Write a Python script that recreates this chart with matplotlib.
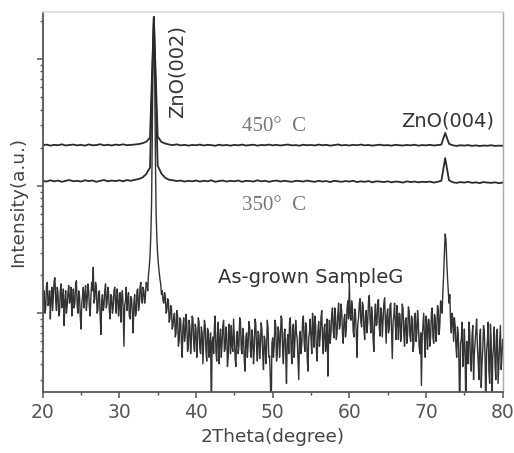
import numpy as np
import matplotlib
matplotlib.use("Agg")
import matplotlib.pyplot as plt
from matplotlib.ticker import LogLocator, NullFormatter, MultipleLocator

# ---------------- data ----------------
# As-grown sample: 2theta from 20.0 to 80.0 in 0.1 deg steps
asgrown = [
    # 20.0 - 33.0
    95, 140, 150, 100, 110, 165, 175, 115, 120, 150,
    90, 130, 160, 105, 135, 180, 190, 125, 105, 160,
    145, 95, 100, 150, 170, 110, 125, 155, 80, 120,
    150, 100, 115, 145, 165, 120, 130, 160, 95, 125,
    155, 110, 120, 170, 180, 115, 100, 150, 140, 95,
    75, 120, 135, 160, 110, 140, 165, 105, 125, 170,
    150, 110, 95, 140, 175, 150, 230, 120, 130, 175,
    160, 100, 105, 145, 150, 95, 68, 125, 140, 105,
    115, 150, 170, 110, 120, 160, 145, 105, 90, 140,
    135, 100, 110, 150, 160, 120, 100, 155, 140, 95,
    120, 145, 85, 130, 150, 110, 55, 115, 125, 160,
    105, 130, 145, 95, 90, 135, 130, 100, 70, 120,
    140, 95, 100, 150, 155, 105, 115, 160, 175, 125,
    120,
    # 33.1 - 37.0
    160, 150, 120, 135, 175, 170, 150, 200, 230, 280,
    400, 700, 2500, 12000, 21400, 9000, 1800, 600, 380, 290,
    240, 210, 185, 170, 140, 150, 125, 120, 145, 135,
    100, 105, 130, 125, 85, 90, 115, 110, 75, 80,
    # 37.1 - 50.0
    95, 100, 65, 70, 105, 95, 55, 60, 92, 88,
    58, 45, 80, 92, 60, 68, 98, 82, 50, 55,
    88, 78, 48, 62, 95, 90, 58, 50, 82, 75,
    45, 60, 92, 85, 52, 48, 78, 70, 40, 58,
    88, 80, 50, 42, 76, 72, 45, 55, 70, 15,
    60, 65, 48, 78, 95, 50, 42, 68, 85, 40,
    62, 75, 45, 58, 80, 88, 50, 52, 78, 70,
    38, 45, 82, 66, 48, 80, 55, 50, 90, 62,
    44, 38, 68, 72, 48, 55, 92, 85, 52, 48,
    76, 66, 42, 35, 64, 70, 45, 58, 86, 78,
    50, 45, 74, 64, 40, 52, 90, 82, 55, 42,
    72, 68, 44, 56, 84, 74, 48, 36, 66, 62,
    40, 50, 88, 76, 45, 46, 30, 15, 58, 64,
    # 50.1 - 58.0
    45, 55, 88, 80, 42, 48, 78, 72, 45, 60,
    95, 90, 50, 40, 70, 75, 48, 28, 62, 68,
    48, 85, 92, 52, 40, 76, 82, 45, 60, 88,
    70, 62, 42, 30, 66, 72, 48, 58, 86, 95,
    60, 50, 84, 78, 45, 35, 64, 70, 90, 62,
    48, 100, 78, 54, 95, 80, 52, 42, 72, 86,
    55, 66, 92, 105, 62, 48, 76, 82, 50, 60,
    90, 32, 65, 88, 58, 70, 98, 110, 72, 64,
    # 58.1 - 68.0
    110, 95, 62, 70, 100, 120, 75, 80, 118, 105,
    70, 58, 90, 98, 65, 75, 110, 125, 90, 175,
    100, 88, 125, 110, 72, 65, 108, 100, 70, 45,
    82, 92, 120, 130, 85, 78, 122, 115, 75, 62,
    95, 105, 70, 85, 125, 138, 90, 70, 112, 96,
    62, 50, 92, 118, 80, 82, 125, 128, 78, 66,
    110, 100, 65, 88, 120, 132, 85, 58, 96, 108,
    70, 76, 115, 120, 75, 44, 85, 95, 120, 80,
    62, 115, 90, 62, 100, 98, 60, 72, 118, 110,
    70, 55, 88, 92, 58, 68, 112, 104, 66, 60,
    # 68.1 - 72.0
    95, 90, 50, 56, 95, 100, 60, 70, 105, 85,
    55, 48, 70, 27, 65, 80, 100, 62, 45, 95,
    80, 52, 90, 88, 55, 66, 100, 110, 65, 58,
    98, 92, 60, 72, 115, 105, 68, 80, 125, 120,
    # 72.1 - 73.6
    100, 150, 200, 300, 420, 380, 260, 190, 150, 120,
    140, 85, 70, 100, 90, 60,
    # 73.7 - 80.0
    92, 80, 55, 45, 78, 70, 40, 15, 58, 62,
    85, 38, 50, 75, 45, 16, 60, 55, 40, 85,
    70, 40, 35, 66, 80, 30, 48, 58, 72, 90,
    55, 42, 30, 64, 75, 26, 40, 52, 80, 72,
    45, 16, 50, 60, 85, 35, 28, 82, 62, 17,
    45, 54, 78, 40, 30, 68, 75, 28, 40, 58,
    80, 36, 45, 62,
]
asgrown_start, asgrown_step = 20.0, 0.1

# Annealed samples: 2theta from 20.0 to 80.0 in 0.5 deg steps
ann450 = [
    2090, 2120, 2080, 2110, 2095, 2130, 2085, 2105, 2120, 2090,
    2110, 2080, 2125, 2095, 2100, 2135, 2090, 2115, 2085, 2120,
    2100, 2130, 2095, 2110, 2120, 2140, 2170, 2230, 2400, 21400,
    2450, 2220, 2160, 2120, 2100, 2130, 2090, 2110, 2080, 2105,
    2095, 2120, 2085, 2110, 2100, 2075, 2115, 2090, 2105, 2080,
    2110, 2090, 2120, 2085, 2100, 2115, 2080, 2105, 2095, 2120,
    2090, 2110, 2085, 2105, 2120, 2090, 2100, 2080, 2115, 2095,
    2105, 2085, 2120, 2095, 2110, 2080, 2100, 2125, 2090, 2105,
    2085, 2110, 2095, 2120, 2090, 2105, 2080, 2100, 2115, 2090,
    2100, 2080, 2110, 2095, 2085, 2105, 2090, 2115, 2080, 2100,
    2090, 2110, 2085, 2100, 2120, 2620, 2150, 2090, 2070, 2095,
    2080, 2100, 2070, 2090, 2065, 2085, 2075, 2095, 2070, 2080,
    2075,
]
ann350 = [
    1100, 1085, 1110, 1090, 1105, 1080, 1100, 1115, 1090, 1100,
    1085, 1110, 1095, 1105, 1080, 1100, 1115, 1090, 1105, 1095,
    1110, 1090, 1115, 1100, 1120, 1135, 1165, 1240, 1400, 21400,
    1450, 1250, 1160, 1120, 1110, 1095, 1105, 1085, 1100, 1090,
    1105, 1085, 1100, 1090, 1110, 1080, 1095, 1105, 1085, 1100,
    1090, 1105, 1080, 1100, 1095, 1085, 1110, 1090, 1100, 1080,
    1095, 1105, 1085, 1100, 1090, 1080, 1100, 1095, 1085, 1105,
    1090, 1080, 1100, 1085, 1095, 1075, 1100, 1090, 1080, 1095,
    1085, 1100, 1075, 1090, 1080, 1095, 1070, 1090, 1085, 1075,
    1090, 1070, 1085, 1080, 1065, 1090, 1075, 1085, 1070, 1080,
    1075, 1085, 1065, 1080, 1100, 1660, 1110, 1070, 1060, 1075,
    1065, 1080, 1060, 1070, 1055, 1075, 1065, 1060, 1070, 1055,
    1065,
]
ann_start, ann_step = 20.0, 0.5

assert len(asgrown) == 601, len(asgrown)
assert len(ann450) == 121 and len(ann350) == 121

x_ticks = [20, 30, 40, 50, 60, 70, 80]

# ---------------- plot ----------------
theta_ag = asgrown_start + asgrown_step * np.arange(len(asgrown))
theta_an = ann_start + ann_step * np.arange(len(ann450))

fig = plt.figure(figsize=(5.14, 4.53), dpi=100)
ax = fig.add_axes([0.083, 0.1347, 0.895, 0.8388])

ax.plot(theta_ag, asgrown, color="#333333", lw=1.0)
ax.plot(theta_an, ann350, color="#2a2a2a", lw=1.3)
ax.plot(theta_an, ann450, color="#2a2a2a", lw=1.3)

ax.set_yscale("log")
ax.set_xlim(20, 80)
ax.set_ylim(24, 23400)

ax.set_xticks(x_ticks)
ax.xaxis.set_minor_locator(MultipleLocator(5))
ax.yaxis.set_major_locator(LogLocator(base=10))
ax.yaxis.set_minor_locator(LogLocator(base=10, subs=np.arange(2, 10)))
ax.yaxis.set_major_formatter(NullFormatter())
ax.yaxis.set_minor_formatter(NullFormatter())

ax.tick_params(axis="both", which="major", direction="out", length=4,
               width=1.1, color="#555555", labelsize=13.5,
               labelcolor="#555555", pad=4)
ax.tick_params(axis="both", which="minor", direction="out", length=2.5,
               width=1.0, color="#555555")

for side in ("left", "bottom"):
    ax.spines[side].set_color("#555555")
    ax.spines[side].set_linewidth(1.3)
ax.spines["top"].set_color("#dddddd")
ax.spines["top"].set_linewidth(1.2)
ax.spines["right"].set_color("#aaaaaa")
ax.spines["right"].set_linewidth(1.0)

ax.set_xlabel("2Theta(degree)", fontsize=13.3, color="#444444", labelpad=4)
ax.set_ylabel("Intensity(a.u.)", fontsize=13.3, color="#444444", labelpad=3)

ax.text(37.5, 7900, "ZnO(002)", rotation=90, ha="center", va="center",
        fontsize=14, color="#333333")
ax.text(72.8, 3250, "ZnO(004)", ha="center", va="center",
        fontsize=14, color="#333333")
ax.text(50.2, 2920, "450°  C", ha="center", va="center",
        fontsize=15, color="#777777", family="Liberation Serif")
ax.text(50.2, 708, "350°  C", ha="center", va="center",
        fontsize=15, color="#777777", family="Liberation Serif")
ax.text(55.0, 192, "As-grown SampleG", ha="center", va="center",
        fontsize=14, color="#333333")

fig.savefig("out.png", dpi=100)
